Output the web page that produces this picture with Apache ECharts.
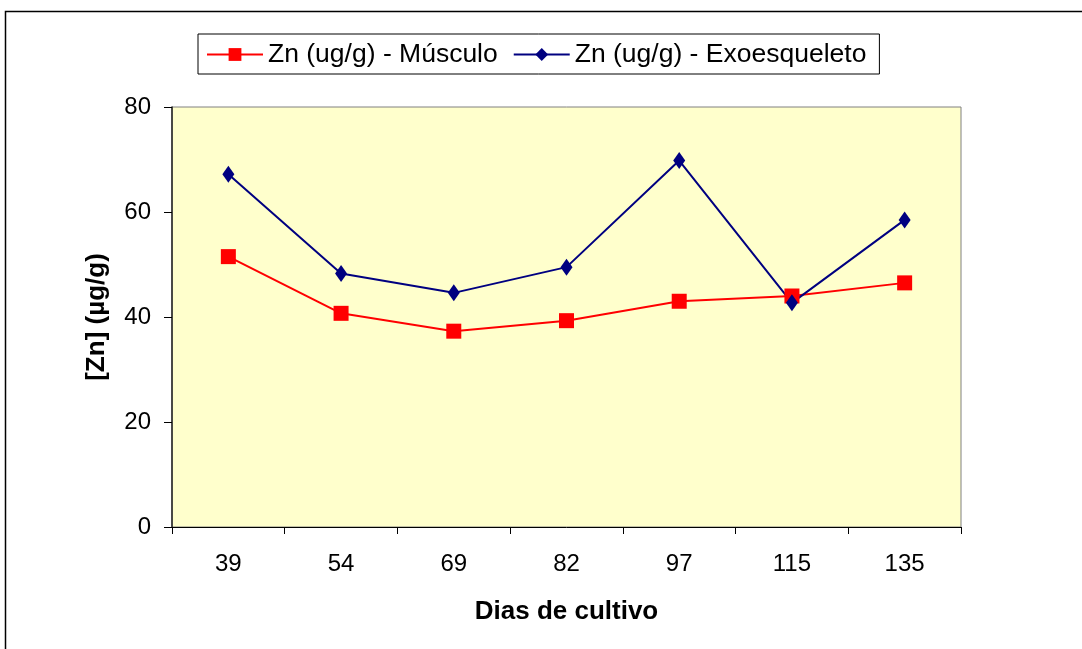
<!DOCTYPE html>
<html>
<head>
<meta charset="utf-8">
<script src="https://cdn.jsdelivr.net/npm/echarts@6/dist/echarts.min.js"></script>
<style>
html,body{margin:0;padding:0;background:#fff;}
#c{width:1082px;height:649px;}
</style>
</head>
<body>
<div id="c"></div>
<script>
const categories = ['39', '54', '69', '82', '97', '115', '135'];
const musculo = [51.5, 40.7, 37.3, 39.3, 43.0, 44.0, 46.5];
const exoesqueleto = [67.2, 48.3, 44.6, 49.5, 69.8, 42.7, 58.5];
const yTicks = [0, 20, 40, 60, 80];

const chart = echarts.init(document.getElementById('c'), null, {renderer: 'canvas'});
const font = '"Liberation Sans", Arial, sans-serif';
chart.setOption({
  animation: false,
  backgroundColor: '#fff',
  textStyle: {fontFamily: font},
  graphic: [{
    type: 'rect', left: 3, top: 9, silent: true,
    shape: {width: 1100, height: 660},
    style: {fill: 'none', stroke: '#000', lineWidth: 1.5}
  }],
  legend: {
    left: 198, top: 34,
    padding: [7, 13, 6, 8],
    itemGap: 15,
    itemWidth: 56, itemHeight: 16,
    borderColor: '#000', borderWidth: 1,
    backgroundColor: '#fff',
    textStyle: {fontSize: 26.5, color: '#000', fontFamily: font},
    data: ['Zn (ug/g) - Músculo', 'Zn (ug/g) - Exoesqueleto']
  },
  grid: {
    left: 172, top: 107, width: 789, height: 420,
    show: true, backgroundColor: '#FFFFCC', borderColor: '#808080', borderWidth: 1
  },
  xAxis: {
    type: 'category', data: categories, boundaryGap: true,
    name: 'Dias de cultivo', nameLocation: 'middle', nameGap: 72,
    nameTextStyle: {fontSize: 26, fontWeight: 'bold', color: '#000', fontFamily: font},
    axisLine: {lineStyle: {color: '#000', width: 1}},
    axisTick: {show: true, interval: 0, length: 7, lineStyle: {color: '#000'}},
    axisLabel: {fontSize: 24, color: '#000', margin: 25, interval: 0, fontFamily: font},
    splitLine: {show: false}
  },
  yAxis: {
    type: 'value', min: 0, max: 80, interval: 20,
    name: '[Zn] (µg/g)', nameLocation: 'middle', nameGap: 62, nameRotate: 90,
    nameTextStyle: {fontSize: 26, fontWeight: 'bold', color: '#000', fontFamily: font},
    axisLine: {show: true, lineStyle: {color: '#222', width: 1.5}},
    axisTick: {show: true, inside: false, length: 8, lineStyle: {color: '#000'}},
    axisLabel: {fontSize: 24, color: '#000', margin: 21, fontFamily: font,
      formatter: v => yTicks.includes(v) ? String(v) : ''},
    splitLine: {show: false}
  },
  series: [{
    name: 'Zn (ug/g) - Músculo', type: 'line', data: musculo,
    symbol: 'rect', symbolSize: 15,
    itemStyle: {color: '#FF0000'},
    lineStyle: {color: '#FF0000', width: 2}
  }, {
    name: 'Zn (ug/g) - Exoesqueleto', type: 'line', data: exoesqueleto,
    symbol: 'diamond', symbolSize: [12, 17],
    itemStyle: {color: '#000080'},
    lineStyle: {color: '#000080', width: 2}
  }]
});
</script>
</body>
</html>
